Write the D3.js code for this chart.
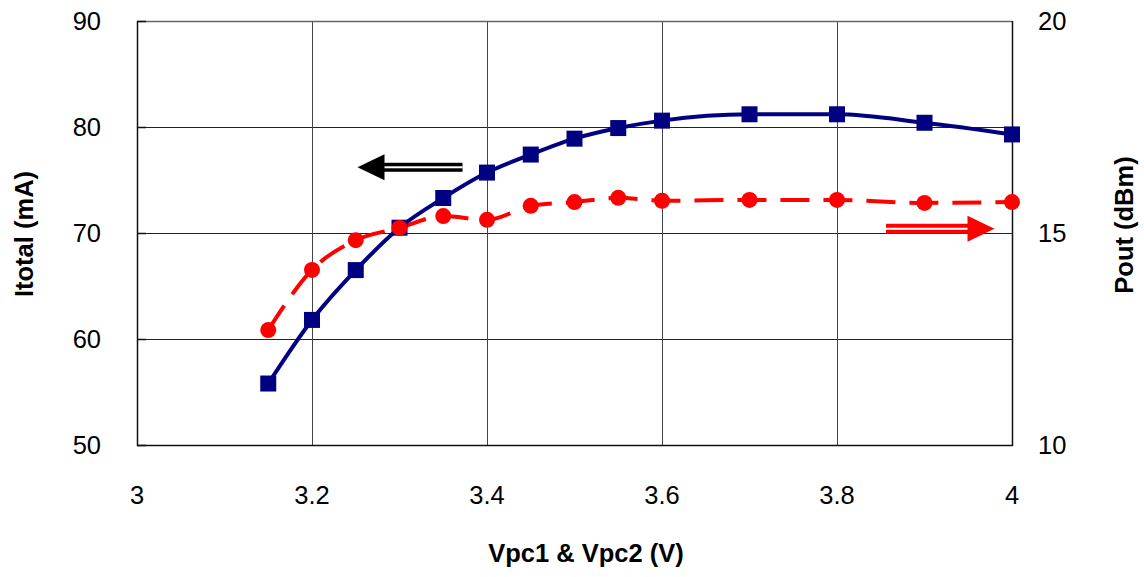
<!DOCTYPE html>
<html><head><meta charset="utf-8">
<script src="https://cdn.jsdelivr.net/npm/d3@7"></script>
<style>body{margin:0;background:#fff}svg{display:block}text{font-family:"Liberation Sans",Arial,sans-serif}</style>
</head><body>
<svg id="c" width="1144" height="577"></svg>
<script>
const vpc = [3.15,3.2,3.25,3.3,3.35,3.4,3.45,3.5,3.55,3.6,3.7,3.8,3.9,4.0];
const itotal = [55.8,61.8,66.5,70.5,73.3,75.7,77.4,78.9,79.9,80.6,81.2,81.2,80.4,79.3];
const pout = [12.71,14.13,14.83,15.12,15.40,15.31,15.64,15.73,15.83,15.76,15.78,15.78,15.71,15.73];
const xTicks = [3,3.2,3.4,3.6,3.8,4];
const yLTicks = [50,60,70,80,90];
const yRTicks = [10,15,20];

const svg = d3.select("#c");
const L=137,R=1012,T=21,B=445;
const x = d3.scaleLinear([3,4],[L,R]);
const yL = d3.scaleLinear([50,90],[B,T]);
const yR = d3.scaleLinear([10,20],[B,T]);

// gridlines
const g = svg.append("g");
g.selectAll("line.h").data(yLTicks.slice(1,-1)).join("line")
  .attr("x1",L).attr("x2",R).attr("y1",d=>Math.round(yL(d))+0.5).attr("y2",d=>Math.round(yL(d))+0.5)
  .attr("stroke","#222").attr("stroke-width",1);
g.selectAll("line.v").data(xTicks.slice(1,-1)).join("line")
  .attr("y1",T).attr("y2",B).attr("x1",d=>Math.round(x(d))+0.5).attr("x2",d=>Math.round(x(d))+0.5)
  .attr("stroke","#444").attr("stroke-width",1);
// frame
g.append("line").attr("x1",L).attr("x2",R).attr("y1",T+0.5).attr("y2",T+0.5).attr("stroke","#666").attr("stroke-width",1.5);
g.append("line").attr("x1",L).attr("x2",R+1).attr("y1",B+0.5).attr("y2",B+0.5).attr("stroke","#111").attr("stroke-width",1.5);
g.append("line").attr("x1",L+0.5).attr("x2",L+0.5).attr("y1",T).attr("y2",B+1).attr("stroke","#111").attr("stroke-width",1.5);
g.append("line").attr("x1",R+0.5).attr("x2",R+0.5).attr("y1",T).attr("y2",B+1).attr("stroke","#111").attr("stroke-width",1.5);
// inner ticks on left axis
g.selectAll("line.tk").data(yLTicks).join("line")
  .attr("x1",L).attr("x2",L+9).attr("y1",d=>Math.round(yL(d))+0.5).attr("y2",d=>Math.round(yL(d))+0.5)
  .attr("stroke","#111").attr("stroke-width",1.5);

// tick labels
const fs = 25.5;
svg.append("g").selectAll("text").data(yLTicks).join("text")
  .attr("x",L-36).attr("y",d=>yL(d)).attr("dy","0.35em").attr("text-anchor","end")
  .attr("font-size",fs).text(d=>d);
svg.append("g").selectAll("text").data(yRTicks).join("text")
  .attr("x",R+26).attr("y",d=>yR(d)).attr("dy","0.35em").attr("text-anchor","start")
  .attr("font-size",fs).text(d=>d);
svg.append("g").selectAll("text").data(xTicks).join("text")
  .attr("x",d=>x(d)).attr("y",B+50).attr("dy","0.35em").attr("text-anchor","middle")
  .attr("font-size",fs).text(d=>d);

// axis titles
svg.append("text").attr("x",586).attr("y",553).attr("dy","0.35em").attr("text-anchor","middle")
  .attr("font-size",25.5).attr("font-weight","bold").text("Vpc1 & Vpc2 (V)");
svg.append("text").attr("transform","translate(24,234) rotate(-90)").attr("dy","0.35em").attr("text-anchor","middle")
  .attr("font-size",25.5).attr("font-weight","bold").text("Itotal (mA)");
svg.append("text").attr("transform","translate(1124,225) rotate(-90)").attr("dy","0.35em").attr("text-anchor","middle")
  .attr("font-size",25.5).attr("font-weight","bold").text("Pout (dBm)");

// series
const curve = d3.curveMonotoneX;
const blueData = vpc.map((v,i)=>[v,itotal[i]]);
const redData = vpc.map((v,i)=>[v,pout[i]]);
svg.append("path").attr("d",d3.line().x(d=>x(d[0])).y(d=>yL(d[1])).curve(curve)(blueData))
  .attr("fill","none").attr("stroke","#000080").attr("stroke-width",4);
svg.append("path").attr("d",d3.line().x(d=>x(d[0])).y(d=>yR(d[1])).curve(curve)(redData))
  .attr("fill","none").attr("stroke","#ff0000").attr("stroke-width",4).attr("stroke-dasharray","29,14");
const ms = 16;
svg.append("g").selectAll("rect").data(blueData).join("rect")
  .attr("x",d=>x(d[0])-ms/2).attr("y",d=>yL(d[1])-ms/2).attr("width",ms).attr("height",ms)
  .attr("fill","#000080");
svg.append("g").selectAll("circle").data(redData).join("circle")
  .attr("cx",d=>x(d[0])).attr("cy",d=>yR(d[1])).attr("r",8).attr("fill","#ff0000");

// arrows
function arrow(tipX, tailX, y, color, th){
  const dir = Math.sign(tailX-tipX);
  const headLen = 27, headH = 13;
  const baseX = tipX + dir*headLen;
  const a = svg.append("g");
  const x0 = Math.min(baseX-dir*2, tailX), x1 = Math.max(baseX-dir*2, tailX);
  a.append("rect").attr("x",x0).attr("y",y-th/2).attr("width",x1-x0).attr("height",th).attr("fill",color);
  a.append("rect").attr("x",x0).attr("y",y-1).attr("width",x1-x0).attr("height",2).attr("fill","#fff");
  a.append("path").attr("d",`M${tipX},${y}L${baseX},${y-headH}L${baseX},${y+headH}Z`).attr("fill",color);
}
arrow(x(3.252), x(3.372), yL(76.2), "#000", 9);
arrow(x(3.98), x(3.856), yR(15.1), "#ff0000", 10);
</script>
</body></html>
